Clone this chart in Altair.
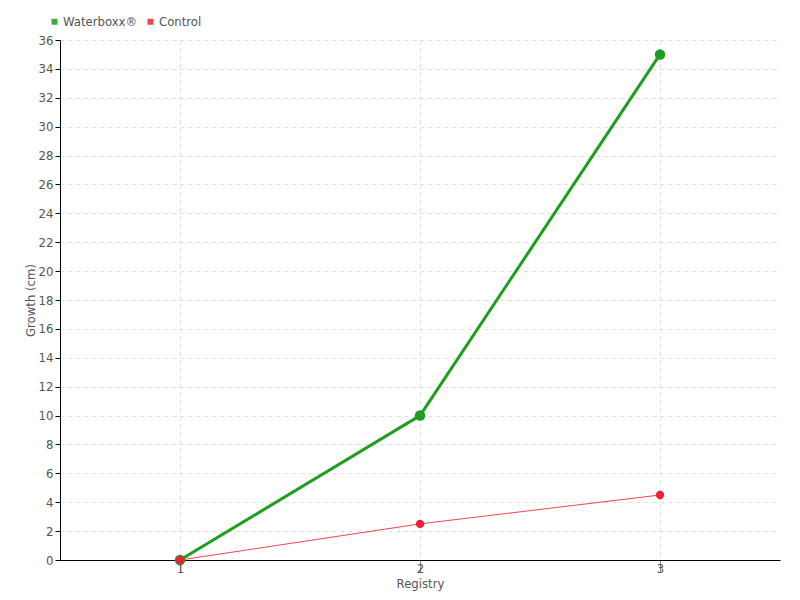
import altair as alt
import pandas as pd

registry = [1, 2, 3]
waterboxx = [0, 10, 35]
control = [0, 2.5, 4.5]
series_names = ["Waterboxx®", "Control"]
colors = ["#1e9e1e", "#ee2233"]
y_ticks = list(range(0, 37, 2))

df = pd.DataFrame({
    "Registry": registry * 2,
    "Growth": waterboxx + control,
    "Series": [series_names[0]] * 3 + [series_names[1]] * 3,
})

FONT = "DejaVu Sans Condensed, Roboto, sans-serif"
GRAY = "#555555"

x = alt.X("Registry:Q", scale=alt.Scale(domain=[0.5, 3.5], nice=False, zero=False),
          axis=alt.Axis(values=registry, title="Registry", format="d",
                        grid=True, gridDash=[4, 4], gridColor="#dddddd",
                        domainColor="#000000", tickColor="#888888", tickSize=12,
                        labelPadding=-10, titlePadding=2, labelColor=GRAY, titleColor=GRAY,
                        labelFontSize=13, titleFontSize=13, titleFontWeight="normal"))
y = alt.Y("Growth:Q", scale=alt.Scale(domain=[0, 36], nice=False),
          axis=alt.Axis(values=y_ticks, title="Growth (cm)",
                        grid=True, gridDash=[4, 4], gridColor="#dddddd",
                        domainColor="#000000", tickColor="#000000", tickSize=5,
                        labelPadding=2, titlePadding=1, labelColor=GRAY, titleColor=GRAY,
                        labelFontSize=13, titleFontSize=13, titleFontWeight="normal"))
color = alt.Color("Series:N", scale=alt.Scale(domain=series_names, range=colors),
                  legend=alt.Legend(title=None, orient="none", legendX=-12, legendY=-25,
                                    direction="horizontal", symbolType="square",
                                    symbolSize=36, labelFontSize=13, labelColor=GRAY,
                                    labelFont=FONT, columnPadding=6, labelOffset=2,
                                    symbolStrokeWidth=0))

base = alt.Chart(df)
green_line = base.transform_filter(alt.datum.Series == series_names[0]).mark_line(
    strokeWidth=3).encode(x=x, y=y, color=color)
red_line = base.transform_filter(alt.datum.Series == series_names[1]).mark_line(
    strokeWidth=1, opacity=0.85).encode(x=x, y=y, color=color)
green_pts = base.transform_filter(alt.datum.Series == series_names[0]).mark_point(
    filled=True, size=110, opacity=1).encode(x=x, y=y, color=color)
red_pts = base.transform_filter(alt.datum.Series == series_names[1]).mark_point(
    filled=True, size=70, opacity=1).encode(x=x, y=y, color=color)

chart = alt.layer(green_line, red_line, green_pts, red_pts).properties(
    width=720, height=520,
    autosize=alt.AutoSizeParams(type="none"),
    padding={"left": 52, "top": 32, "right": 12, "bottom": 32},
).configure_view(stroke=None).configure_axis(labelFont=FONT, titleFont=FONT)

chart.save("out.html", embed_options={"renderer": "svg", "actions": False})
